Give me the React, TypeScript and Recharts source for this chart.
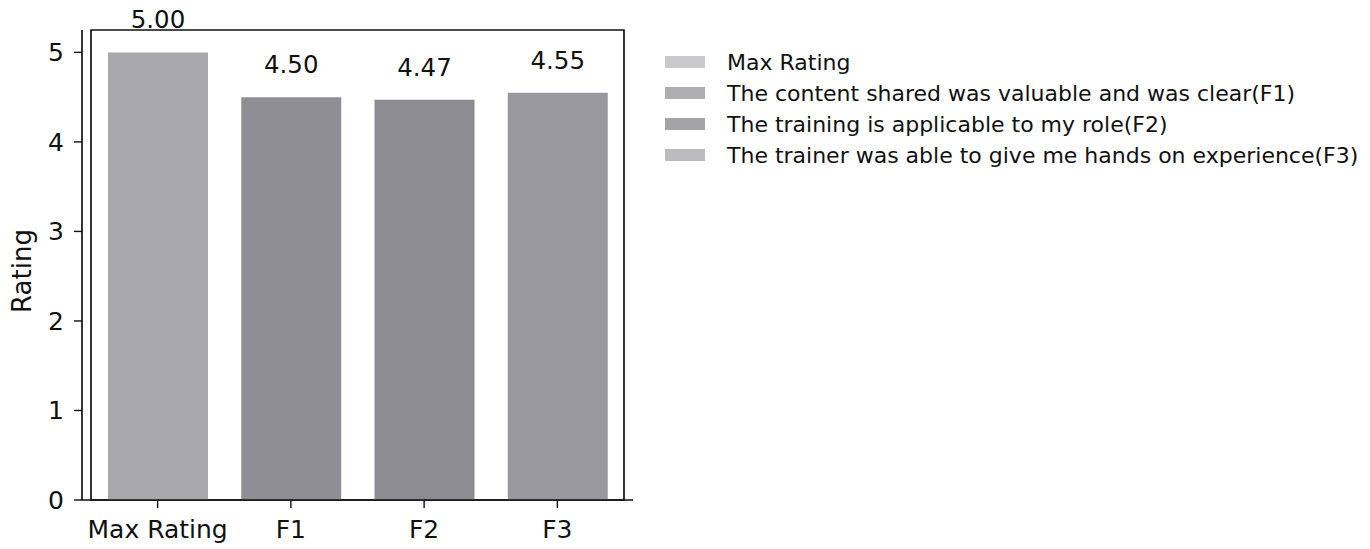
import React from "react";
import { BarChart, Bar, XAxis, YAxis, Cell, LabelList, ReferenceArea, Label } from "recharts";

const categories = ["Max Rating", "F1", "F2", "F3"];
const ratings = [5.0, 4.5, 4.47, 4.55];
const legendLabels = [
  "Max Rating",
  "The content shared was valuable and was clear(F1)",
  "The training is applicable to my role(F2)",
  "The trainer was able to give me hands on experience(F3)",
];
const yTicks = [0, 1, 2, 3, 4, 5];

const barColors = ["#a8a8ad", "#8e8e94", "#8b8b91", "#98989e"];
const swatchColors = ["#c9c9cd", "#adadb2", "#a3a3a8", "#bcbcc0"];

const data = categories.map((c, i) => ({ name: c, value: ratings[i] }));

const FONT = "'DejaVu Sans', sans-serif";
const YMAX = 5.25;

export default function App() {
  return (
    <div style={{ position: "absolute", left: 0, top: 0, width: 1370, height: 549, background: "#fff" }}>
      <BarChart
        width={1370}
        height={549}
        data={data}
        margin={{ top: 30, right: 737, bottom: 0, left: 0 }}
        style={{ fontFamily: FONT }}
      >
        <XAxis
          dataKey="name"
          height={49}
          padding={{ left: 9, right: 9 }}
          tick={{ fill: "#111", fontSize: 25, fontFamily: FONT }}
          tickSize={8}
          tickMargin={12}
          axisLine={{ stroke: "#111", strokeWidth: 1.7 }}
          tickLine={{ stroke: "#111", strokeWidth: 1.4 }}
          interval={0}
        />
        <YAxis
          width={82}
          domain={[0, YMAX]}
          ticks={yTicks}
          allowDataOverflow
          tick={{ fill: "#111", fontSize: 25, fontFamily: FONT }}
          tickSize={8}
          tickMargin={10}
          axisLine={{ stroke: "#111", strokeWidth: 1.7 }}
          tickLine={{ stroke: "#111", strokeWidth: 1.4 }}
        >
          <Label
            content={(props: any) => {
              const vb = props.viewBox || { x: 0, y: 30, width: 82, height: 470 };
              const cx = vb.x + 22;
              const cy = vb.y + vb.height / 2 + 6;
              return (
                <text
                  x={cx}
                  y={cy}
                  transform={`rotate(-90 ${cx} ${cy})`}
                  textAnchor="middle"
                  dominantBaseline="central"
                  fontSize={26}
                  fontFamily={FONT}
                  fill="#111"
                >
                  Rating
                </text>
              );
            }}
          />
        </YAxis>
        <ReferenceArea y1={0} y2={YMAX} fill="none" stroke="#111" strokeWidth={1.7} fillOpacity={0} ifOverflow="visible" />
        <Bar dataKey="value" barSize={100} isAnimationActive={false}>
          {data.map((d, i) => (
            <Cell key={d.name} fill={barColors[i]} />
          ))}
          <LabelList
            dataKey="value"
            position="top"
            offset={24}
            formatter={(v: any) => Number(v).toFixed(2)}
            style={{ fill: "#111", fontSize: 24.5, fontFamily: FONT }}
          />
        </Bar>
      </BarChart>
      <div
        style={{
          position: "absolute",
          left: 665,
          top: 46.5,
          fontFamily: FONT,
          fontSize: 22,
          color: "#111",
          whiteSpace: "nowrap",
        }}
      >
        {legendLabels.map((l, i) => (
          <div key={l} style={{ display: "flex", alignItems: "center", height: 31 }}>
            <span
              style={{
                display: "inline-block",
                width: 40,
                height: 12,
                background: swatchColors[i],
                marginRight: 22,
                flexShrink: 0,
              }}
            />
            <span>{l}</span>
          </div>
        ))}
      </div>
    </div>
  );
}
